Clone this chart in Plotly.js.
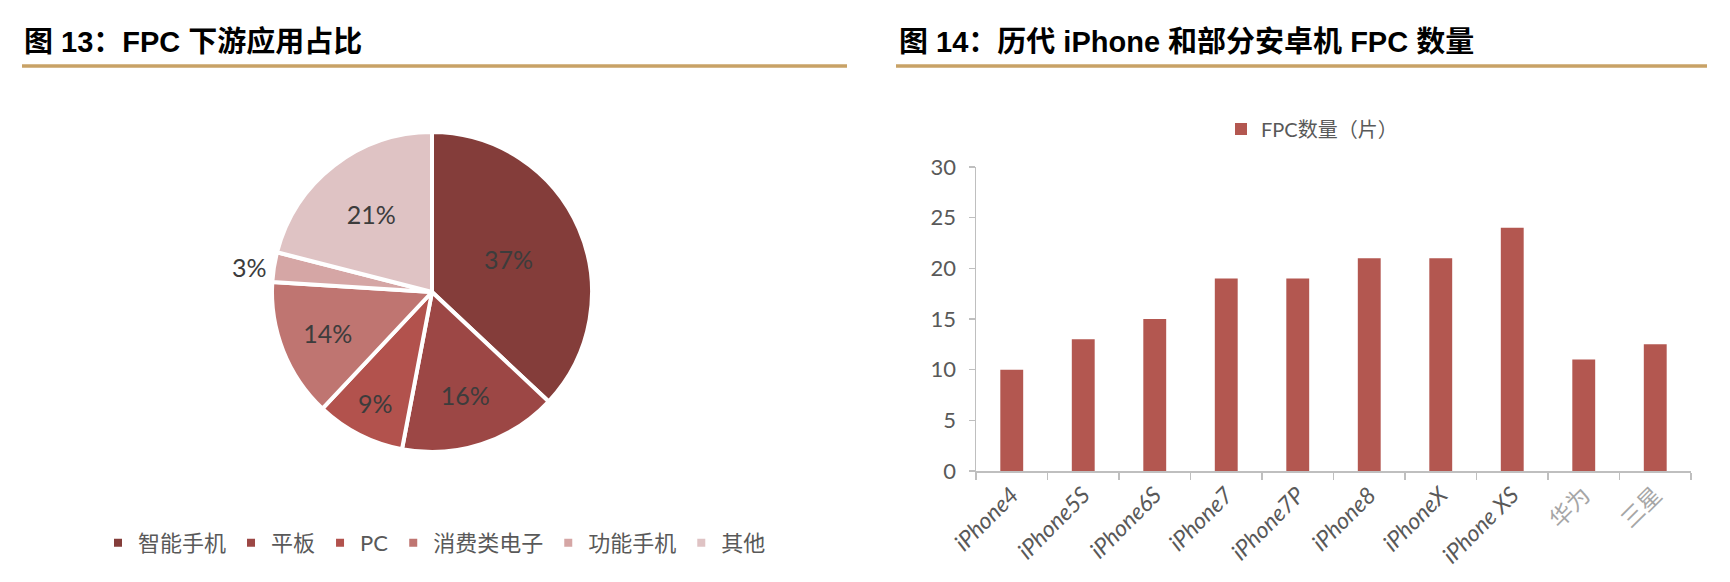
<!DOCTYPE html>
<html>
<head>
<meta charset="utf-8">
<script src="https://cdn.plot.ly/plotly-3.0.1.min.js"></script>
<style>
  html, body { margin:0; padding:0; background:#fff; }
  #wrap { position:relative; width:1730px; height:582px; }
  #left { position:absolute; left:0; top:0; width:865px; height:582px; }
  #right { position:absolute; left:865px; top:0; width:865px; height:582px; }
</style>
</head>
<body>
<div id="wrap"><div id="left"></div><div id="right"></div></div>
<script>
// ---- data ----
const pieLabels = ['智能手机', '平板', 'PC', '消费类电子', '功能手机', '其他'];
const pieValues = [37, 16, 9, 14, 3, 21];
const pieColors = ['#843D3A', '#9C4745', '#B2524D', '#BF7571', '#D5A6A5', '#DFC3C4'];

const barCategories = ['iPhone4', 'iPhone5S', 'iPhone6S', 'iPhone7', 'iPhone7P', 'iPhone8', 'iPhoneX', 'iPhone XS', '华为', '三星'];
const barValues = [10, 13, 15, 19, 19, 21, 21, 24, 11, 12.5];
const barName = 'FPC数量（片）';
const yTicks = [0, 5, 10, 15, 20, 25, 30];

const title1 = '图 13：FPC 下游应用占比';
const title2 = '图 14：历代 iPhone 和部分安卓机 FPC 数量';

// ---- helpers ----
const W = 865, H = 582;
const GOLD = '#C8A266';
const GREY = '#595959';
const latin = "Lato, 'Noto Sans CJK SC', sans-serif";
const titleFont = { family: "'Liberation Sans', 'Noto Sans CJK SC', sans-serif", size: 29, color: '#000', weight: 'bold' };
function pX(px, m) { return (px - m.l) / (W - m.l - m.r); }
function pY(py, m) { return (H - m.b - py) / (H - m.t - m.b); }

// ---- left: pie ----
const mL = { l: 20, r: 20, t: 132, b: 130 };
Plotly.newPlot('left', [{
  type: 'pie',
  labels: pieLabels,
  values: pieValues,
  sort: false,
  direction: 'clockwise',
  rotation: 0,
  domain: { x: [pX(132, mL), pX(732, mL)], y: [0, 1] },
  marker: { colors: pieColors, line: { color: '#fff', width: 4 } },
  textinfo: 'percent',
  texttemplate: '%{value}%',
  textposition: pieValues.map(v => v < 5 ? 'outside' : 'inside'),
  insidetextorientation: 'horizontal',
  textfont: { family: latin, size: 25, color: '#3C3C3C' },
  outsidetextfont: { family: latin, size: 25, color: '#3C3C3C' },
  hoverinfo: 'none'
}], {
  width: W, height: H,
  margin: mL,
  paper_bgcolor: '#fff',
  showlegend: true,
  title: { text: title1, font: titleFont, xref: 'container', yref: 'container', x: 24 / W, xanchor: 'left', y: 1 - 42 / H, yanchor: 'middle' },
  legend: {
    orientation: 'h',
    x: pX(98, mL), xanchor: 'left', y: pY(543, mL), yanchor: 'middle',
    font: { family: latin, size: 22, color: GREY }, traceorder: 'normal'
  },
  shapes: [{
    type: 'line', xref: 'paper', yref: 'paper',
    x0: pX(22, mL), x1: pX(847, mL), y0: pY(66, mL), y1: pY(66, mL),
    line: { color: GOLD, width: 3.5 }
  }]
}, { staticPlot: true });

// ---- right: bars ----
const mR = { l: 111, r: 39, t: 167, b: 111 };
const tickText = barCategories.map(c => /^[\x00-\x7F]+$/.test(c) ? '<i>' + c + '</i>' : '<span style="color:#A6A6A6">' + c + '</span>');
Plotly.newPlot('right', [{
  type: 'bar',
  name: barName,
  x: barCategories,
  y: barValues,
  marker: { color: '#B35750' },
  hoverinfo: 'none',
  showlegend: true
}], {
  width: W, height: H,
  margin: mR,
  paper_bgcolor: '#fff', plot_bgcolor: '#fff',
  bargap: 0.68,
  title: { text: title2, font: titleFont, xref: 'container', yref: 'container', x: 34 / W, xanchor: 'left', y: 1 - 42 / H, yanchor: 'middle' },
  showlegend: true,
  legend: {
    orientation: 'h', x: pX(1241 - 865 - 20, mR), xanchor: 'left', y: pY(129, mR), yanchor: 'middle',
    font: { family: latin, size: 20, color: GREY }
  },
  xaxis: {
    type: 'category', range: [-0.5, 9.5],
    tickvals: barCategories, ticktext: tickText,
    tickangle: -45, tickson: 'boundaries', ticks: 'outside', ticklen: 7, tickcolor: '#BFBFBF', tickwidth: 1.5,
    showline: true, linecolor: '#BFBFBF', linewidth: 1.5,
    showgrid: false, zeroline: false,
    tickfont: { family: latin, size: 23, color: GREY }
  },
  yaxis: {
    range: [0, 30], tickvals: yTicks,
    ticks: 'outside', ticklen: 6, tickcolor: '#BFBFBF', tickwidth: 1.5,
    showline: true, linecolor: '#BFBFBF', linewidth: 1.5,
    showgrid: false, zeroline: false,
    tickfont: { family: latin, size: 22, color: GREY },
    ticklabelstandoff: 8
  },
  shapes: [{
    type: 'line', xref: 'paper', yref: 'paper',
    x0: pX(896 - 865, mR), x1: pX(1707 - 865, mR), y0: pY(66, mR), y1: pY(66, mR),
    line: { color: GOLD, width: 3.5 }
  }]
}, { staticPlot: true });
</script>
</body>
</html>
